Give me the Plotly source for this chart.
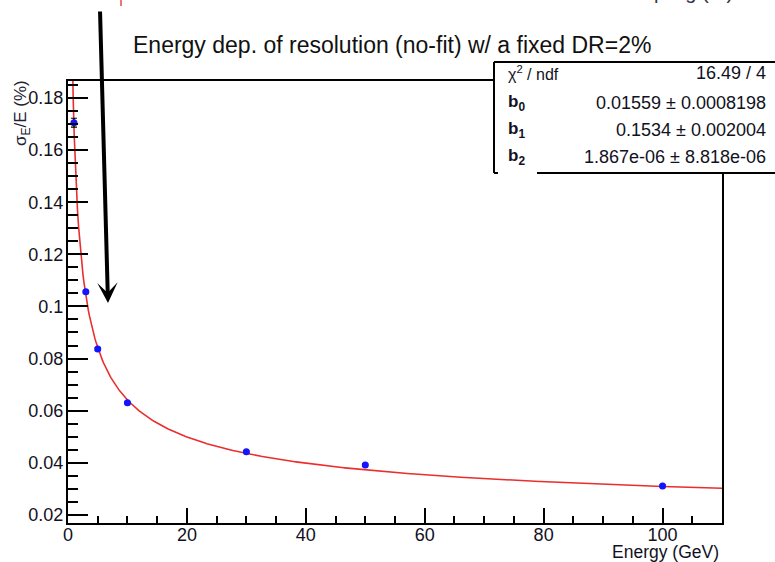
import numpy as np
import plotly.graph_objects as go

# Measured resolution points
energy = [1, 3, 5, 10, 30, 50, 100]
resolution = [0.1705, 0.1056, 0.0837, 0.0630, 0.0442, 0.0392, 0.0311]
resolution_err = [0.0017, 0.0005, 0.0005, 0.0004, 0.0003, 0.0003, 0.0003]

# Fit parameters shown in the stats box
b0, b0_err = 0.01559, 0.0008198
b1, b1_err = 0.1534, 0.002004
b2, b2_err = 1.867e-06, 8.818e-06
chi2, ndf = 16.49, 4

x_ticks = [0, 20, 40, 60, 80, 100]
x_ticktext = ["0", "20", "40", "60", "80", "100"]
y_ticks = [0.02, 0.04, 0.06, 0.08, 0.10, 0.12, 0.14, 0.16, 0.18]
y_ticktext = ["0.02", "0.04", "0.06", "0.08", "0.1", "0.12", "0.14", "0.16", "0.18"]

W, H = 775, 562
L, R, T, B = 68, 53, 81, 39
FONT = "Liberation Sans, Arial, Helvetica, sans-serif"


def px(x):
    return (x - L) / (W - L - R)


def py(y):
    return (H - B - y) / (H - T - B)


# Fit curve evaluated from the fitted parameters
e_curve = np.linspace(0.5, 110, 600)
f_curve = b0 + b1 / np.sqrt(e_curve) + b2 / e_curve

fig = go.Figure()
fig.add_trace(go.Scatter(
    x=e_curve, y=f_curve, mode="lines",
    line=dict(color="rgb(235,45,45)", width=1.6),
    hoverinfo="skip", showlegend=False,
))
fig.add_trace(go.Scatter(
    x=energy, y=resolution, mode="markers",
    marker=dict(color="rgb(20,20,255)", size=7),
    error_y=dict(type="data", array=resolution_err, color="black", thickness=1.2, width=3),
    showlegend=False,
))

axis_common = dict(
    showline=True, linecolor="black", linewidth=2, mirror=True,
    ticks="inside", tickcolor="black", tickwidth=2,
    showgrid=False, zeroline=False,
    tickfont=dict(family=FONT, size=18, color="#111122"),
)

fig.update_xaxes(
    range=[0, 110], tickmode="array", tickvals=x_ticks, ticktext=x_ticktext,
    ticklen=15, ticklabelstandoff=-6,
    minor=dict(dtick=5, tick0=0, ticks="inside", ticklen=7, tickcolor="black", tickwidth=2),
    **axis_common,
)
fig.update_yaxes(
    range=[0.0169, 0.1865], tickmode="array", tickvals=y_ticks, ticktext=y_ticktext,
    ticklen=20, ticklabelstandoff=-1,
    minor=dict(dtick=0.005, tick0=0, ticks="inside", ticklen=10, tickcolor="black", tickwidth=2),
    **axis_common,
)

shapes = [
    # stats box
    dict(type="rect", xref="paper", yref="paper", x0=px(494), x1=px(780), y0=py(173), y1=py(62),
         fillcolor="white", line=dict(width=0), layer="above"),
    dict(type="line", xref="paper", yref="paper", x0=px(494), x1=px(780), y0=py(62), y1=py(62),
         line=dict(color="black", width=2), layer="above"),
    dict(type="line", xref="paper", yref="paper", x0=px(494), x1=px(494), y0=py(62), y1=py(173),
         line=dict(color="black", width=2), layer="above"),
    dict(type="line", xref="paper", yref="paper", x0=px(494), x1=px(498), y0=py(173), y1=py(173),
         line=dict(color="black", width=2), layer="above"),
    dict(type="line", xref="paper", yref="paper", x0=px(537), x1=px(780), y0=py(173), y1=py(173),
         line=dict(color="black", width=2), layer="above"),
    # stray red stroke at the top edge
    dict(type="line", xref="paper", yref="paper", x0=px(121), x1=px(121), y0=py(0), y1=py(6),
         line=dict(color="rgb(240,70,70)", width=1.5), layer="above"),
]

annotations = [
    dict(text="Energy dep. of resolution (no-fit) w/ a fixed DR=2%", xref="paper", yref="paper",
         x=px(392), y=py(45), xanchor="center", yanchor="middle", showarrow=False,
         font=dict(family=FONT, size=23, color="#111111")),
    dict(text="Sampling (%)", xref="paper", yref="paper",
         x=px(734), y=py(4), xanchor="right", yanchor="bottom", showarrow=False, borderpad=0,
         font=dict(family=FONT, size=20, color="#333344")),
    dict(text="σ<sub>E</sub>/E (%)", xref="paper", yref="paper", textangle=-90,
         x=px(22), y=py(78), xanchor="center", yanchor="top", showarrow=False,
         font=dict(family=FONT, size=17, color="#222233")),
    dict(text="Energy (GeV)", xref="paper", yref="paper",
         x=px(721), y=py(552), xanchor="right", yanchor="middle", showarrow=False,
         font=dict(family=FONT, size=17.5, color="#111122")),
    # arrow
    dict(x=px(108), y=py(303), xref="paper", yref="paper", ax=-8, ay=-293,
         axref="pixel", ayref="pixel", text="", showarrow=True,
         arrowhead=3, arrowsize=0.85, arrowwidth=4, arrowcolor="black"),
]

stat_rows = [
    ("χ<sup>2</sup> / ndf", f"{chi2:.2f} / {ndf}", 73),
    ("<b>b<sub>0</sub></b>", f"{b0} ± {b0_err}", 103),
    ("<b>b<sub>1</sub></b>", f"{b1} ± {b1_err}", 130),
    ("<b>b<sub>2</sub></b>", f"{b2:.3e} ± {b2_err:.3e}", 157),
]
for i, (lab, val, yy) in enumerate(stat_rows):
    annotations.append(dict(text=lab, xref="paper", yref="paper", x=px(506), y=py(yy),
                            xanchor="left", yanchor="middle", showarrow=False,
                            font=dict(family=FONT, size=16 if i == 0 else 17, color="#111122")))
    annotations.append(dict(text=val, xref="paper", yref="paper", x=px(768), y=py(yy),
                            xanchor="right", yanchor="middle", showarrow=False,
                            font=dict(family=FONT, size=18, color="#111122")))

fig.update_layout(
    width=W, height=H,
    margin=dict(l=L, r=R, t=T, b=B, pad=0),
    paper_bgcolor="white", plot_bgcolor="white",
    shapes=shapes, annotations=annotations,
    showlegend=False,
)

fig.write_html("out.html")
